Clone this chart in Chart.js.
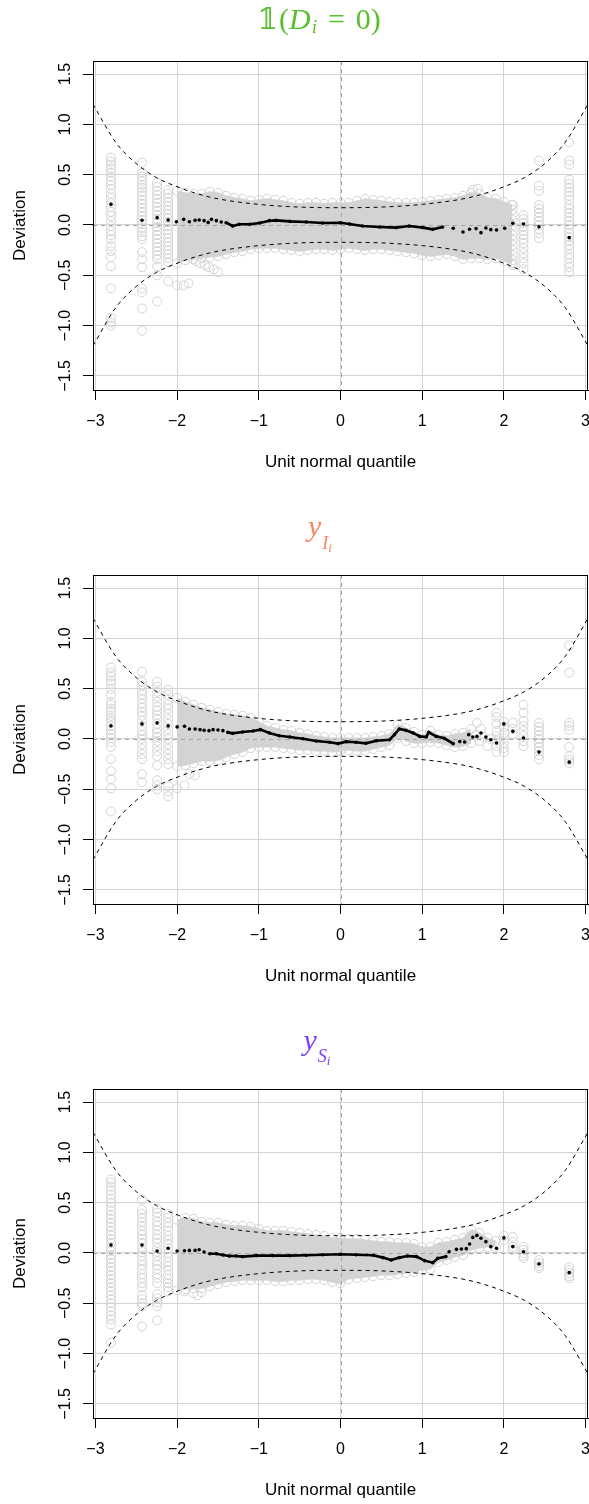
<!DOCTYPE html>
<html>
<head>
<meta charset="utf-8">
<script src="https://cdn.jsdelivr.net/npm/chart.js@4.4.1/dist/chart.umd.min.js"></script>
<style>
html, body { margin: 0; padding: 0; overflow: hidden; background: #fff; }
.panel { position: absolute; left: 0; width: 589px; height: 514px; }
</style>
</head>
<body>
<div class="panel" style="top:0px"><canvas id="wp1" width="589" height="514"></canvas></div>
<div class="panel" style="top:514px"><canvas id="wp2" width="589" height="514"></canvas></div>
<div class="panel" style="top:1028px"><canvas id="wp3" width="589" height="514"></canvas></div>
<script>
// axes
const xTicks = [-3, -2, -1, 0, 1, 2, 3];
const yTicks = [-1.5, -1, -0.5, 0, 0.5, 1, 1.5];
const xRange = [-3.03, 3.03];
const yRange = [-1.64, 1.63];

// 95% bands (same in every panel)
const bandX = [-3.03, -2.75, -2.5, -2.25, -2, -1.75, -1.5, -1, -0.5, 0, 0.5, 1, 1.5, 1.75, 2, 2.25, 2.5, 2.75, 3.03];
const bandUpper = [1.2, 0.82, 0.61, 0.47, 0.38, 0.31, 0.26, 0.205, 0.178, 0.172, 0.178, 0.205, 0.26, 0.31, 0.38, 0.47, 0.61, 0.82, 1.2];
const bandLower = [-1.2, -0.82, -0.61, -0.47, -0.38, -0.31, -0.26, -0.205, -0.178, -0.172, -0.178, -0.205, -0.26, -0.31, -0.38, -0.47, -0.61, -0.82, -1.2];

// ---- panel 1 : 1(D_i = 0)
const p1CloudX = [-2.0, -1.9, -1.8, -1.7, -1.6, -1.5, -1.4, -1.3, -1.2, -1.1, -1.0, -0.9, -0.8, -0.7, -0.6, -0.5, -0.4, -0.3, -0.2, -0.1, 0.0, 0.1, 0.2, 0.3, 0.4, 0.5, 0.6, 0.7, 0.8, 0.9, 1.0, 1.1, 1.2, 1.3, 1.4, 1.5, 1.6, 1.7, 1.8, 1.9, 2.0, 2.1];
const p1CloudHi = [0.34, 0.32, 0.31, 0.31, 0.33, 0.32, 0.29, 0.27, 0.26, 0.24, 0.25, 0.26, 0.25, 0.24, 0.22, 0.21, 0.22, 0.22, 0.21, 0.22, 0.22, 0.22, 0.24, 0.26, 0.25, 0.24, 0.23, 0.22, 0.22, 0.22, 0.23, 0.24, 0.25, 0.26, 0.27, 0.29, 0.32, 0.31, 0.27, 0.26, 0.23, 0.2];
const p1CloudLo = [-0.38, -0.35, -0.34, -0.33, -0.32, -0.31, -0.29, -0.27, -0.26, -0.24, -0.23, -0.23, -0.23, -0.24, -0.25, -0.26, -0.25, -0.24, -0.24, -0.25, -0.24, -0.23, -0.24, -0.25, -0.24, -0.24, -0.25, -0.26, -0.27, -0.28, -0.3, -0.31, -0.3, -0.29, -0.31, -0.34, -0.33, -0.33, -0.34, -0.33, -0.36, -0.38];
const p1StackX = [-2.81, -2.43, -2.245, -2.11, 2.11, 2.24, 2.43, 2.8];
const p1StackY = [
  [0.67, 0.63, 0.6, 0.56, 0.52, 0.48, 0.44, 0.4, 0.36, 0.31, 0.27, 0.22, 0.18, 0.13, 0.09, 0.04, -0.01, -0.06, -0.1, -0.14, -0.21, -0.26, -0.32, -0.41, -0.63, -0.92, -0.97, -1.0],
  [0.62, 0.52, 0.48, 0.44, 0.4, 0.37, 0.33, 0.29, 0.25, 0.21, 0.17, 0.13, 0.09, 0.05, 0.01, -0.03, -0.07, -0.11, -0.14, -0.27, -0.34, -0.42, -0.63, -0.67, -0.83, -1.05],
  [0.42, 0.38, 0.34, 0.3, 0.26, 0.22, 0.18, 0.14, 0.1, 0.06, 0.02, -0.02, -0.06, -0.1, -0.14, -0.18, -0.22, -0.26, -0.3, -0.34, -0.41, -0.5, -0.76],
  [0.35, 0.31, 0.27, 0.23, 0.19, 0.15, 0.11, 0.07, 0.03, -0.01, -0.05, -0.09, -0.13, -0.17, -0.21, -0.25, -0.29, -0.33, -0.37, -0.56],
  [0.2, 0.15, 0.1, 0.05, 0.0, -0.05, -0.1, -0.15, -0.2, -0.25, -0.3, -0.35, -0.4],
  [0.1, 0.06, 0.02, -0.02, -0.06, -0.1, -0.14, -0.18, -0.23, -0.28, -0.33, -0.38, -0.44],
  [0.64, 0.39, 0.34, 0.2, 0.16, 0.12, 0.08, 0.04, 0.0, -0.04, -0.08, -0.13],
  [0.82, 0.64, 0.6, 0.45, 0.41, 0.37, 0.33, 0.29, 0.25, 0.2, 0.16, 0.12, 0.08, 0.04, 0.0, -0.04, -0.08, -0.12, -0.16, -0.2, -0.24, -0.29, -0.33, -0.38, -0.42, -0.47]
];
const p1OutX = [-2.0, -1.92, -1.86, -1.77, -1.72, -1.66, -1.61, -1.55, -1.5, 1.62, 1.68];
const p1OutY = [-0.6, -0.6, -0.58, -0.36, -0.38, -0.4, -0.42, -0.44, -0.47, 0.35, 0.36];
const p1WormX = [-2.81, -2.43, -2.245, -2.11, -2.01, -1.92, -1.85, -1.78, -1.73, -1.67, -1.62, -1.58, -1.52, -1.46, -1.4, -1.32, -1.24, -1.11, -0.99, -0.87, -0.79, -0.62, -0.42, -0.22, 0, 0.11, 0.27, 0.48, 0.68, 0.84, 1.01, 1.13, 1.25, 1.38, 1.5, 1.58, 1.66, 1.72, 1.78, 1.84, 1.91, 2.01, 2.11, 2.24, 2.43, 2.8];
const p1WormY = [0.205, 0.046, 0.073, 0.05, 0.033, 0.056, 0.033, 0.046, 0.05, 0.043, 0.026, 0.056, 0.043, 0.03, 0.023, -0.01, 0.007, 0.007, 0.02, 0.043, 0.046, 0.036, 0.03, 0.02, 0.023, 0.01, -0.01, -0.02, -0.026, -0.01, -0.026, -0.043, -0.02, -0.033, -0.07, -0.043, -0.036, -0.076, -0.03, -0.046, -0.05, -0.033, 0.017, 0.01, -0.017, -0.126];
const p1Core = [-1.42, 1.3];

// ---- panel 2 : y_{I_i}
const p2CloudX = [-2.0, -1.9, -1.8, -1.7, -1.6, -1.5, -1.4, -1.3, -1.2, -1.1, -1.0, -0.9, -0.8, -0.7, -0.6, -0.5, -0.4, -0.3, -0.2, -0.1, 0.0, 0.1, 0.2, 0.3, 0.4, 0.5, 0.6, 0.7, 0.8, 0.9, 1.0, 1.1, 1.2, 1.3, 1.4, 1.5, 1.6];
const p2CloudHi = [0.41, 0.37, 0.34, 0.31, 0.29, 0.27, 0.25, 0.24, 0.23, 0.21, 0.17, 0.13, 0.11, 0.09, 0.08, 0.06, 0.05, 0.03, 0.02, 0.01, 0.01, 0.01, 0.01, 0.01, 0.02, 0.03, 0.05, 0.14, 0.11, 0.07, 0.04, 0.08, 0.04, 0.03, 0.05, 0.06, 0.1];
const p2CloudLo = [-0.27, -0.26, -0.24, -0.22, -0.22, -0.21, -0.18, -0.15, -0.13, -0.09, -0.08, -0.08, -0.08, -0.09, -0.1, -0.11, -0.11, -0.12, -0.12, -0.13, -0.12, -0.11, -0.12, -0.12, -0.1, -0.08, -0.06, 0.01, -0.02, -0.04, -0.04, -0.03, -0.04, -0.06, -0.08, -0.07, -0.04];
const p2StackX = [-2.81, -2.43, -2.245, -2.11, 1.91, 2.0, 2.11, 2.24, 2.43, 2.8];
const p2StackY = [
  [0.71, 0.66, 0.62, 0.58, 0.55, 0.5, 0.44, 0.37, 0.34, 0.3, 0.27, 0.23, 0.2, 0.17, 0.13, 0.09, 0.05, 0.01, -0.03, -0.08, -0.2, -0.32, -0.4, -0.49, -0.72],
  [0.67, 0.57, 0.53, 0.48, 0.44, 0.4, 0.35, 0.31, 0.27, 0.23, 0.18, 0.13, 0.08, 0.04, 0.0, -0.05, -0.1, -0.15, -0.2, -0.35, -0.43],
  [0.57, 0.52, 0.47, 0.42, 0.37, 0.32, 0.28, 0.24, 0.2, 0.15, 0.1, 0.06, 0.02, -0.02, -0.07, -0.12, -0.17, -0.26, -0.41, -0.46, -0.5],
  [0.49, 0.44, 0.39, 0.34, 0.3, 0.25, 0.2, 0.15, 0.1, 0.05, 0.0, -0.05, -0.1, -0.15, -0.2, -0.25, -0.47, -0.52, -0.57],
  [0.26, 0.22, 0.15, 0.08, 0.03, -0.02, -0.07, -0.13],
  [0.17, 0.12, 0.06, 0.01, -0.04, -0.09, -0.13],
  [0.16, 0.1, 0.05],
  [0.34, 0.26, 0.18, 0.13, 0.08, 0.03, -0.02, -0.07],
  [0.16, 0.12, 0.08, 0.04, 0.0, -0.04, -0.08, -0.12, -0.16, -0.2],
  [0.93, 0.66, 0.16, 0.13, 0.09, -0.08, -0.17, -0.21, -0.24]
];
const p2OutX = [-2.0, -1.91, -1.85, -1.78, 1.67, 1.72, 1.66, 1.7, 1.75, 1.8, 1.84];
const p2OutY = [-0.49, -0.46, -0.35, -0.36, 0.16, 0.1, 0.04, -0.02, 0.02, -0.07, 0.0];
const p2WormX = [-2.81, -2.43, -2.245, -2.11, -2.0, -1.91, -1.85, -1.78, -1.72, -1.67, -1.61, -1.56, -1.5, -1.44, -1.38, -1.32, -1.2, -1.07, -0.98, -0.87, -0.75, -0.62, -0.46, -0.3, -0.13, -0.03, 0.07, 0.19, 0.31, 0.44, 0.6, 0.66, 0.72, 0.8, 0.89, 0.97, 1.05, 1.08, 1.17, 1.27, 1.38, 1.46, 1.52, 1.57, 1.62, 1.67, 1.72, 1.78, 1.84, 1.91, 2.0, 2.11, 2.24, 2.43, 2.8];
const p2WormY = [0.13, 0.15, 0.16, 0.13, 0.12, 0.126, 0.1, 0.1, 0.093, 0.086, 0.083, 0.093, 0.09, 0.083, 0.066, 0.056, 0.07, 0.08, 0.093, 0.06, 0.033, 0.02, 0.003, -0.02, -0.033, -0.046, -0.026, -0.033, -0.043, -0.017, -0.007, 0.043, 0.1, 0.086, 0.06, 0.026, 0.02, 0.066, 0.026, 0.007, -0.046, -0.026, -0.03, 0.043, 0.02, 0.026, 0.06, 0.02, -0.007, -0.04, 0.15, 0.076, 0.01, -0.13, -0.23];
const p2Core = [-1.39, 1.39];

// ---- panel 3 : y_{S_i}
const p3CloudX = [-2.0, -1.9, -1.8, -1.7, -1.6, -1.5, -1.4, -1.3, -1.2, -1.1, -1.0, -0.9, -0.8, -0.7, -0.6, -0.5, -0.4, -0.3, -0.2, -0.1, 0.0, 0.1, 0.2, 0.3, 0.4, 0.5, 0.6, 0.7, 0.8, 0.9, 1.0, 1.1, 1.2, 1.3, 1.4, 1.5, 1.6, 1.7, 1.8, 1.9];
const p3CloudHi = [0.33, 0.35, 0.34, 0.31, 0.3, 0.3, 0.28, 0.27, 0.27, 0.26, 0.24, 0.22, 0.22, 0.22, 0.21, 0.2, 0.19, 0.18, 0.17, 0.15, 0.15, 0.14, 0.14, 0.13, 0.12, 0.11, 0.11, 0.1, 0.1, 0.09, 0.06, 0.06, 0.1, 0.11, 0.13, 0.15, 0.23, 0.2, 0.15, 0.12];
const p3CloudLo = [-0.37, -0.36, -0.35, -0.35, -0.33, -0.31, -0.29, -0.28, -0.27, -0.27, -0.27, -0.27, -0.28, -0.28, -0.27, -0.27, -0.26, -0.26, -0.27, -0.29, -0.3, -0.26, -0.25, -0.24, -0.23, -0.22, -0.22, -0.21, -0.2, -0.19, -0.17, -0.16, -0.09, -0.07, -0.04, -0.02, 0.03, 0.05, 0.06, 0.06];
const p3StackX = [-2.81, -2.43, -2.245, -2.11, 2.0, 2.11, 2.24, 2.43, 2.8];
const p3StackY = [
  [0.73, 0.7, 0.66, 0.62, 0.58, 0.54, 0.5, 0.46, 0.42, 0.38, 0.34, 0.3, 0.26, 0.22, 0.18, 0.14, 0.1, 0.06, 0.02, -0.02, -0.06, -0.1, -0.14, -0.18, -0.22, -0.26, -0.3, -0.34, -0.38, -0.42, -0.46, -0.5, -0.54, -0.58, -0.62, -0.66, -0.71, -0.89],
  [0.53, 0.43, 0.39, 0.35, 0.31, 0.27, 0.22, 0.18, 0.14, 0.1, 0.05, 0.01, -0.03, -0.08, -0.12, -0.16, -0.21, -0.25, -0.3, -0.34, -0.42, -0.46, -0.5, -0.53, -0.73],
  [0.44, 0.4, 0.36, 0.31, 0.27, 0.23, 0.18, 0.14, 0.1, 0.05, 0.01, -0.03, -0.08, -0.12, -0.16, -0.21, -0.25, -0.3, -0.41, -0.45, -0.49, -0.53, -0.67],
  [0.39, 0.35, 0.3, 0.26, 0.22, 0.17, 0.13, 0.09, 0.04, 0.0, -0.04, -0.09, -0.13, -0.17, -0.22, -0.26, -0.3, -0.34, -0.38],
  [0.17, 0.13],
  [0.16, 0.11, 0.06, 0.03],
  [0.06, 0.03, 0.0, -0.03, -0.05],
  [-0.07, -0.1, -0.13, -0.15],
  [-0.14, -0.17, -0.2, -0.23, -0.25]
];
const p3OutX = [-1.91, -1.8, -1.75, -1.7];
const p3OutY = [-0.38, -0.4, -0.42, -0.39];
const p3WormX = [-2.81, -2.43, -2.245, -2.11, -2.0, -1.91, -1.85, -1.78, -1.73, -1.67, -1.6, -1.52, -1.44, -1.36, -1.28, -1.2, -1.03, -0.83, -0.62, -0.42, -0.22, 0, 0.19, 0.4, 0.52, 0.62, 0.72, 0.82, 0.93, 1.03, 1.13, 1.19, 1.29, 1.33, 1.42, 1.48, 1.54, 1.58, 1.62, 1.67, 1.72, 1.78, 1.84, 1.91, 2.0, 2.11, 2.24, 2.43, 2.8];
const p3WormY = [0.08, 0.08, 0.02, 0.046, 0.02, 0.023, 0.026, 0.026, 0.033, 0.01, -0.007, -0.007, -0.02, -0.03, -0.03, -0.036, -0.026, -0.026, -0.026, -0.023, -0.017, -0.013, -0.017, -0.023, -0.046, -0.07, -0.046, -0.03, -0.036, -0.076, -0.096, -0.053, -0.036, 0.013, 0.036, 0.04, 0.043, 0.09, 0.155, 0.175, 0.146, 0.113, 0.063, 0.046, 0.15, 0.063, 0.013, -0.11, -0.195];
const p3Core = [-1.62, 1.3];

const grey = '#d3d3d3';
const hollow = 'rgba(0,0,0,0)';

function zip(xs, ys) {
  return xs.map((x, i) => ({ x: x, y: ys[i] }));
}

function columns(xs, cols) {
  const out = [];
  xs.forEach((x, i) => cols[i].forEach(y => out.push({ x: x, y: y })));
  return out;
}

function signed(v, digits) {
  return (v < 0 ? '\u2212' : '') + Math.abs(v).toFixed(digits);
}

// zero reference lines, plot frame and the math title
const wormPlot = {
  id: 'wormPlot',
  afterDatasetDraw(chart, args) {
    if (args.index !== 2) return;
    const { ctx, chartArea: a, scales } = chart;
    const x0 = Math.round(scales.x.getPixelForValue(0)) + 0.5;
    const y0 = Math.round(scales.y.getPixelForValue(0)) + 0.5;
    ctx.save();
    ctx.strokeStyle = '#a3a3a3';
    ctx.lineWidth = 1;
    ctx.setLineDash([4, 4]);
    ctx.beginPath();
    ctx.moveTo(x0, a.top);
    ctx.lineTo(x0, a.bottom);
    ctx.moveTo(a.left, y0);
    ctx.lineTo(a.right, y0);
    ctx.stroke();
    ctx.restore();
  },
  afterDraw(chart, args, opts) {
    const { ctx, chartArea: a } = chart;
    ctx.save();
    ctx.strokeStyle = '#000';
    ctx.lineWidth = 1;
    ctx.strokeRect(Math.round(a.left) + 0.5, Math.round(a.top) + 0.5, Math.round(a.right - a.left) - 1, Math.round(a.bottom - a.top));
    // title
    ctx.fillStyle = opts.color;
    ctx.textBaseline = 'alphabetic';
    ctx.textAlign = 'left';
    let total = 0;
    opts.parts.forEach(p => { ctx.font = p.font; total += (p.dx || 0) + ctx.measureText(p.t).width; });
    let x = opts.cx - total / 2;
    opts.parts.forEach(p => {
      ctx.font = p.font;
      x += p.dx || 0;
      ctx.fillText(p.t, x, opts.base + (p.dy || 0));
      x += ctx.measureText(p.t).width;
    });
    ctx.restore();
  }
};

function makeChart(id, p, title) {
  const datasets = [
    { data: zip(p.cloudX, p.cloudHi), showLine: true, fill: '+1', tension: 0.2,
      borderColor: grey, borderWidth: 1, backgroundColor: grey,
      pointRadius: 4.5, pointBorderWidth: 1, pointBorderColor: grey, pointBackgroundColor: hollow, order: 4 },
    { data: zip(p.cloudX, p.cloudLo), showLine: true, fill: false, tension: 0.2,
      borderColor: grey, borderWidth: 1,
      pointRadius: 4.5, pointBorderWidth: 1, pointBorderColor: grey, pointBackgroundColor: hollow, order: 5 },
    { data: columns(p.stackX, p.stackY).concat(zip(p.outX, p.outY)), showLine: false,
      pointRadius: 4.5, pointBorderWidth: 1, pointBorderColor: grey, pointBackgroundColor: hollow, order: 3 },
    { data: zip(bandX, bandUpper), showLine: true, fill: false, cubicInterpolationMode: 'monotone',
      borderColor: '#000', borderWidth: 1, borderDash: [4, 4], pointRadius: 0, order: 2 },
    { data: zip(bandX, bandLower), showLine: true, fill: false, cubicInterpolationMode: 'monotone',
      borderColor: '#000', borderWidth: 1, borderDash: [4, 4], pointRadius: 0, order: 2 },
    { data: zip(p.wormX, p.wormY), showLine: true, fill: false, borderColor: '#000', borderWidth: 2.6,
      segment: {
        borderColor: c => (c.p0.parsed.x >= p.core[0] && c.p1.parsed.x <= p.core[1]) ? '#000' : hollow
      },
      pointRadius: 1.8, pointBorderWidth: 0, pointBackgroundColor: '#000', order: 0 }
  ];

  const tickFont = { family: 'Liberation Sans', size: 16 };
  const titleFont = { family: 'Liberation Sans', size: 17 };

  new Chart(document.getElementById(id), {
    type: 'line',
    data: { datasets: datasets },
    plugins: [wormPlot],
    options: {
      responsive: false,
      devicePixelRatio: 1,
      animation: false,
      events: [],
      layout: { autoPadding: false, padding: { top: 61, right: 1, left: 0, bottom: 0 } },
      plugins: {
        legend: { display: false },
        tooltip: { enabled: false },
        wormPlot: title
      },
      scales: {
        x: {
          type: 'linear', min: xRange[0], max: xRange[1],
          afterBuildTicks: s => { s.ticks = xTicks.map(v => ({ value: v })); },
          afterFit: s => { s.height = 124; s.paddingLeft = 0; s.paddingRight = 0; },
          grid: { color: grey, lineWidth: 1, tickColor: '#000', tickLength: 10, tickWidth: 1 },
          border: { display: true, color: '#000', width: 1 },
          ticks: { color: '#000', font: tickFont, padding: 12, maxRotation: 0, autoSkip: false,
            callback: v => signed(v, 0) },
          title: { display: true, text: 'Unit normal quantile', color: '#000', font: titleFont,
            padding: { top: 0, bottom: 41 } }
        },
        y: {
          type: 'linear', min: yRange[0], max: yRange[1],
          afterBuildTicks: s => { s.ticks = yTicks.map(v => ({ value: v })); },
          afterFit: s => { s.width = 93; s.paddingTop = 0; s.paddingBottom = 0; },
          grid: { color: grey, lineWidth: 1, tickColor: '#000', tickLength: 10, tickWidth: 1 },
          border: { display: true, color: '#000', width: 1 },
          ticks: { color: '#000', font: tickFont, padding: 2, minRotation: 90, maxRotation: 90,
            crossAlign: 'center', autoSkip: false, callback: v => signed(v, 1) },
          title: { display: true, text: 'Deviation', color: '#000', font: titleFont,
            padding: { top: 10, bottom: 0 } }
        }
      }
    }
  });
}

const serif = '"Liberation Serif", "DejaVu Serif", serif';

makeChart('wp1', {
  cloudX: p1CloudX, cloudHi: p1CloudHi, cloudLo: p1CloudLo, stackX: p1StackX, stackY: p1StackY,
  outX: p1OutX, outY: p1OutY, wormX: p1WormX, wormY: p1WormY, core: p1Core
}, {
  color: '#5abf2d', cx: 319, base: 29,
  parts: [
    { t: '\u{1D7D9}', font: '30px "DejaVu Serif", "DejaVu Sans", "Noto Sans"' },
    { t: '(', font: '30px ' + serif, dx: 1 },
    { t: 'D', font: 'italic 30px ' + serif },
    { t: 'i', font: 'italic 19px ' + serif, dy: 4, dx: 1 },
    { t: '=', font: '30px ' + serif, dx: 11 },
    { t: '0', font: '30px ' + serif, dx: 11 },
    { t: ')', font: '30px ' + serif }
  ]
});

makeChart('wp2', {
  cloudX: p2CloudX, cloudHi: p2CloudHi, cloudLo: p2CloudLo, stackX: p2StackX, stackY: p2StackY,
  outX: p2OutX, outY: p2OutY, wormX: p2WormX, wormY: p2WormY, core: p2Core
}, {
  color: '#fa8462', cx: 320, base: 22,
  parts: [
    { t: 'y', font: 'italic 30px ' + serif },
    { t: 'I', font: 'italic 18px ' + serif, dy: 12.5, dx: 1 },
    { t: 'i', font: 'italic 13px ' + serif, dy: 16 }
  ]
});

makeChart('wp3', {
  cloudX: p3CloudX, cloudHi: p3CloudHi, cloudLo: p3CloudLo, stackX: p3StackX, stackY: p3StackY,
  outX: p3OutX, outY: p3OutY, wormX: p3WormX, wormY: p3WormY, core: p3Core
}, {
  color: '#7b3dff', cx: 317, base: 22,
  parts: [
    { t: 'y', font: 'italic 30px ' + serif },
    { t: 'S', font: 'italic 18px ' + serif, dy: 12, dx: 1 },
    { t: 'i', font: 'italic 13px ' + serif, dy: 14.5 }
  ]
});
</script>
</body>
</html>
